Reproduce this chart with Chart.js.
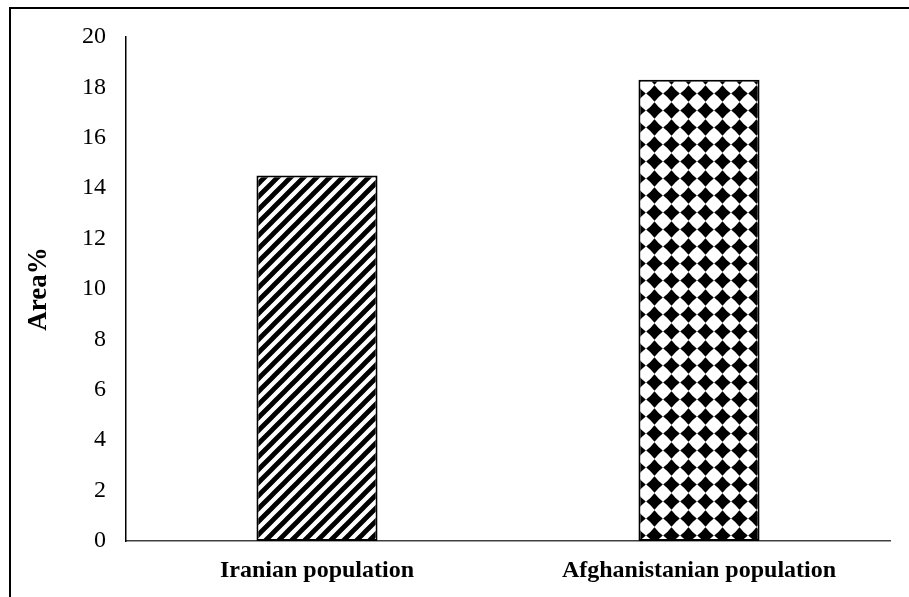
<!DOCTYPE html>
<html>

<head>
  <script src="https://cdn.jsdelivr.net/npm/chart.js@4.4.1/dist/chart.umd.min.js"></script>
  <style>
    html, body { margin: 0; padding: 0; background: #fff; }
  </style>
</head>

<body>
  <div style="position: relative; width:909px; height:597px">
    <canvas id="myChart" width="909" height="597"></canvas>
  </div>
  <script type="text/javascript">
    // data
    var categories = ['Iranian population', 'Afghanistanian population'];
    var areaValues = [14.5, 18.3];
    var yTicks = [0, 2, 4, 6, 8, 10, 12, 14, 16, 18, 20];

    // hatch fills (excel style patterns)
    function stripePattern(ctx) {
      var s = 13;
      var c = document.createElement('canvas');
      c.width = s; c.height = s;
      var g = c.getContext('2d');
      g.fillStyle = '#fff';
      g.fillRect(0, 0, s, s);
      g.strokeStyle = '#000';
      g.lineWidth = 4.8;
      g.beginPath();
      g.moveTo(-2, s + 2); g.lineTo(s + 2, -2);
      g.moveTo(-2, 2); g.lineTo(2, -2);
      g.moveTo(s - 2, s + 2); g.lineTo(s + 2, s - 2);
      g.stroke();
      return ctx.createPattern(c, 'repeat');
    }

    function diamondPattern(ctx) {
      var s = 17, h = s / 2;
      var c = document.createElement('canvas');
      c.width = s; c.height = s;
      var g = c.getContext('2d');
      g.fillStyle = '#fff';
      g.fillRect(0, 0, s, s);
      g.fillStyle = '#000';
      var r = 8.3;
      g.beginPath();
      g.moveTo(h, h - r);
      g.quadraticCurveTo(h + 3.6, h - 3.6, h + r, h);
      g.quadraticCurveTo(h + 3.6, h + 3.6, h, h + r);
      g.quadraticCurveTo(h - 3.6, h + 3.6, h - r, h);
      g.quadraticCurveTo(h - 3.6, h - 3.6, h, h - r);
      g.fill();
      return ctx.createPattern(c, 'repeat');
    }

    // outer frame
    var framePlugin = {
      id: 'frame',
      beforeDraw: function(chart) {
        var ctx = chart.ctx;
        ctx.save();
        ctx.strokeStyle = '#000';
        ctx.lineWidth = 2;
        ctx.strokeRect(10, 8, 1000, 1000);
        ctx.restore();
      }
    };

    var ctx = document.getElementById('myChart').getContext('2d');
    var font = { family: "'Liberation Serif', 'Times New Roman', serif", size: 24 };

    var chart = new Chart(ctx, {
      type: 'bar',
      data: {
        labels: categories,
        datasets: [{
          label: 'Area%',
          data: areaValues,
          backgroundColor: [stripePattern(ctx), diamondPattern(ctx)],
          borderColor: '#000',
          borderWidth: 2,
          borderSkipped: false,
          categoryPercentage: 1,
          barPercentage: 0.317
        }]
      },
      options: {
        responsive: false,
        animation: false,
        layout: { padding: { left: 0, top: 37, right: 19, bottom: 0 } },
        plugins: {
          legend: { display: false },
          tooltip: { enabled: false }
        },
        scales: {
          x: {
            grid: { display: false, drawTicks: false },
            border: { display: true, color: '#404040', width: 1.5 },
            ticks: {
              color: '#000',
              padding: 15,
              font: Object.assign({}, font, { weight: 'bold' })
            },
            afterFit: function(scale) { scale.height = 56; }
          },
          y: {
            min: 0,
            max: 20,
            afterBuildTicks: function(scale) {
              scale.ticks = yTicks.map(function(v) { return { value: v }; });
            },
            grid: { display: false, drawTicks: false },
            border: { display: true, color: '#000', width: 1.5 },
            ticks: { color: '#000', padding: 20, font: font },
            title: {
              display: true,
              text: 'Area%',
              color: '#000',
              padding: { top: 23, bottom: 0 },
              font: Object.assign({}, font, { size: 27, weight: 'bold' })
            },
            afterFit: function(scale) { scale.width = 126; }
          }
        }
      },
      plugins: [framePlugin]
    });
  </script>
</body>

</html>
